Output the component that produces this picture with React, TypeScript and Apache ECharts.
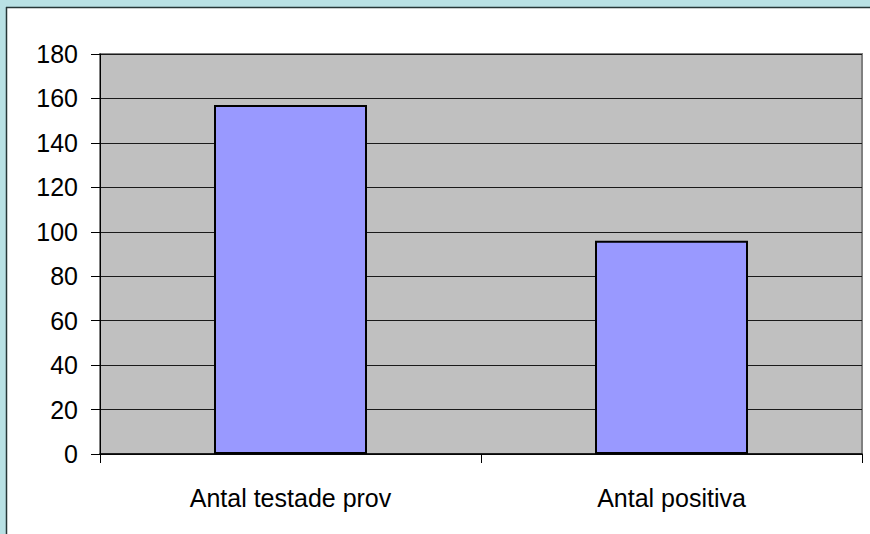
import React, { useEffect, useRef } from "react";
import * as echarts from "echarts";

const categories = ["Antal testade prov", "Antal positiva"];
const values = [157, 96];
const yTicks = { min: 0, max: 180, interval: 20 };

export default function App() {
  const ref = useRef<HTMLDivElement>(null);
  useEffect(() => {
    document.body.style.margin = "0";
    const chart = echarts.init(ref.current!, null, { renderer: "svg" });
    chart.setOption({
      animation: false,
      backgroundColor: "#ffffff",
      textStyle: { fontFamily: "Liberation Sans, Arial, sans-serif" },
      graphic: [
        { type: "rect", shape: { x: 0, y: 0, width: 870, height: 7 }, style: { fill: "#b9e1e4" }, z: 0 },
        { type: "rect", shape: { x: 0, y: 0, width: 6, height: 534 }, style: { fill: "#b9e1e4" }, z: 0 },
        { type: "line", shape: { x1: 6, y1: 7.5, x2: 870, y2: 7.5 }, style: { stroke: "#263636", lineWidth: 1.5 }, z: 1 },
        { type: "line", shape: { x1: 6.5, y1: 7, x2: 6.5, y2: 534 }, style: { stroke: "#263636", lineWidth: 1.5 }, z: 1 },
      ],
      grid: {
        left: 100,
        right: 8,
        top: 54,
        bottom: 80,
        show: true,
        backgroundColor: "#c0c0c0",
        borderColor: "#808080",
        borderWidth: 2,
      },
      xAxis: {
        type: "category",
        data: categories,
        boundaryGap: true,
        axisLine: { show: true, lineStyle: { color: "#000000", width: 1.5 } },
        axisTick: { show: true, length: 9, inside: false, alignWithLabel: false, lineStyle: { color: "#000000" } },
        axisLabel: { color: "#000000", fontSize: 25, margin: 31, fontFamily: "Liberation Sans" },
        splitLine: { show: false },
      },
      yAxis: {
        type: "value",
        min: yTicks.min,
        max: yTicks.max,
        interval: yTicks.interval,
        axisLine: { show: true, lineStyle: { color: "#000000", width: 1 } },
        axisTick: { show: true, length: 9, lineStyle: { color: "#000000" } },
        axisLabel: { color: "#000000", fontSize: 25, margin: 22, fontFamily: "Liberation Sans" },
        splitLine: { show: true, lineStyle: { color: "#1a1a1a", width: 1 } },
      },
      series: [
        {
          type: "bar",
          data: values,
          barWidth: 153,
          itemStyle: { color: "#9999ff", borderColor: "#000000", borderWidth: 2 },
        },
      ],
    });
    return () => chart.dispose();
  }, []);
  return <div ref={ref} style={{ width: 870, height: 534 }} />;
}
